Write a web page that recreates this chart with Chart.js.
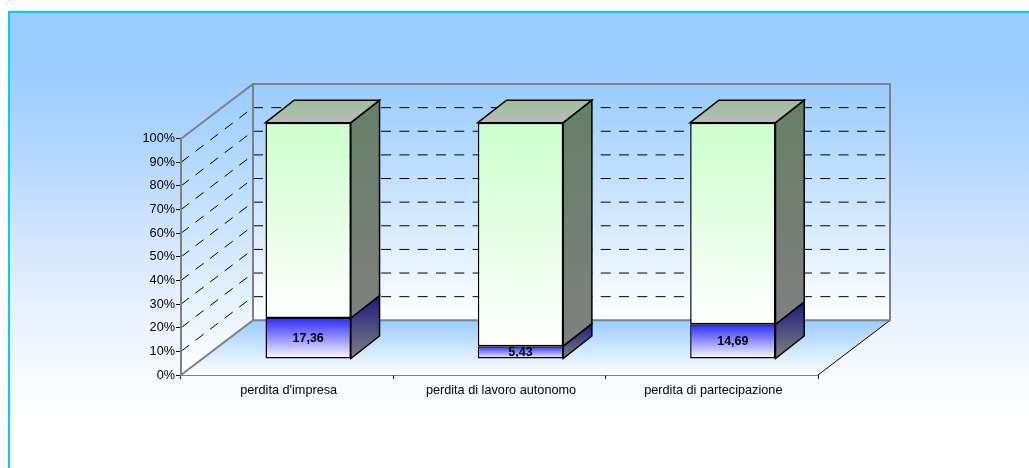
<!DOCTYPE html>
<html>
<head>
<meta charset="utf-8">
<style>
  html, body { margin: 0; padding: 0; background: #fff; }
  #wrap { width: 1029px; height: 468px; }
</style>
<script src="https://cdn.jsdelivr.net/npm/chart.js@4/dist/chart.umd.min.js"></script>
</head>
<body>
<div id="wrap"><canvas id="grafico"></canvas></div>
<script>
var categorie = ["perdita d'impresa", "perdita di lavoro autonomo", "perdita di partecipazione"];
var quotaBlu = [17.36, 5.43, 14.69];
var quotaVerde = [82.64, 94.57, 85.31];
var tacche = [0, 10, 20, 30, 40, 50, 60, 70, 80, 90, 100];

// depth of the 3d box and of the bars, in pixels
var PROF_X = 72, PROF_Y = 54.7;
var BAR_X = 21, BAR_Y = 16;
var BAR_DX = 28.7, BAR_DY = 22.5;

function gradV(ctx, y0, y1, c0, c1) {
  var g = ctx.createLinearGradient(0, y0, 0, y1);
  g.addColorStop(0, c0);
  g.addColorStop(1, c1);
  return g;
}

// front face gradient of a stacked segment
function riempi(colore) {
  return function (c) {
    var sc = c.chart.scales.y;
    if (!sc) return colore;
    var base = 0;
    if (c.datasetIndex === 1) base = quotaBlu[c.dataIndex];
    var y0 = sc.getPixelForValue(base + c.raw);
    var y1 = sc.getPixelForValue(base);
    if (!isFinite(y0) || !isFinite(y1)) return colore;
    return gradV(c.chart.ctx, y0, y1, colore, "#ffffff");
  };
}

function poligono(ctx, punti, fill, stroke, lw) {
  ctx.beginPath();
  ctx.moveTo(punti[0][0], punti[0][1]);
  for (var i = 1; i < punti.length; i++) ctx.lineTo(punti[i][0], punti[i][1]);
  ctx.closePath();
  if (fill) { ctx.fillStyle = fill; ctx.fill(); }
  if (stroke) { ctx.strokeStyle = stroke; ctx.lineWidth = lw; ctx.stroke(); }
}

function linea(ctx, x0, y0, x1, y1, colore, lw, dash) {
  ctx.beginPath();
  ctx.setLineDash(dash || []);
  ctx.moveTo(x0, y0);
  ctx.lineTo(x1, y1);
  ctx.strokeStyle = colore;
  ctx.lineWidth = lw;
  ctx.stroke();
  ctx.setLineDash([]);
}

var sfondo = {
  id: "sfondo",
  beforeDraw: function (chart) {
    var ctx = chart.ctx;
    ctx.save();
    ctx.fillStyle = "#ffffff";
    ctx.fillRect(0, 0, chart.width, chart.height);
    var g = ctx.createLinearGradient(0, 0, 0, 468);
    g.addColorStop(60 / 468, "#99ccff");
    g.addColorStop(143 / 468, "#afd5ff");
    g.addColorStop(243 / 468, "#d5e6ff");
    g.addColorStop(310 / 468, "#e9f2ff");
    g.addColorStop(380 / 468, "#f8fbff");
    g.addColorStop(430 / 468, "#ffffff");
    ctx.fillStyle = g;
    ctx.fillRect(9, 12, chart.width, chart.height);
    ctx.strokeStyle = "#00ccff";
    ctx.lineWidth = 2;
    ctx.strokeRect(9, 12, chart.width + 10, chart.height + 10);
    ctx.restore();
  }
};

var scatola = {
  id: "scatola",
  beforeDatasetsDraw: function (chart) {
    var ctx = chart.ctx, a = chart.chartArea, sc = chart.scales.y;
    var xb = a.left + PROF_X, xr = a.right + PROF_X;
    var yt = a.top - PROF_Y, yb = a.bottom - PROF_Y;
    ctx.save();
    // walls and floor
    poligono(ctx, [[xb, yt], [xr, yt], [xr, yb], [xb, yb]], gradV(ctx, yt, yb, "#99ccff", "#ffffff"));
    poligono(ctx, [[a.left, a.top], [xb, yt], [xb, yb], [a.left, a.bottom]], gradV(ctx, yt, a.bottom, "#99ccff", "#ffffff"));
    poligono(ctx, [[a.left, a.bottom], [xb, yb], [xr, yb], [a.right, a.bottom]],
      gradV(ctx, yb, a.bottom, "#99ccff", "#ffffff"));
    tacche.forEach(function (t) {
      if (t === 0 || t === 100) return;
      var y = sc.getPixelForValue(t);
      linea(ctx, a.left, y, xb, y - PROF_Y, "#000", 1, [10, 8.3]);
      linea(ctx, xb, y - PROF_Y, xr, y - PROF_Y, "#000", 1, [10, 8.3]);
    });
    linea(ctx, a.right, a.bottom, xr, yb, "#000", 1);
    poligono(ctx, [[a.left, a.top], [xb, yt], [xr, yt], [xr, yb], [xb, yb], [a.left, a.bottom]],
      null, "#808080", 2);
    linea(ctx, xb, yt, xb, yb, "#808080", 2);
    // sides and tops of the bars, then the library draws the fronts on top
    ctx.translate(BAR_X, -BAR_Y);
    [0, 1].forEach(function (d) {
      chart.getDatasetMeta(d).data.forEach(function (b) {
        var p = b.getProps(["x", "y", "base", "width"]);
        var dx = p.x + p.width / 2;
        var sx = p.x - p.width / 2;
        var alto = d === 0 ? "#1a1a80" : "#667f66";
        poligono(ctx, [[dx, p.y], [dx + BAR_DX, p.y - BAR_DY], [dx + BAR_DX, p.base - BAR_DY], [dx, p.base]],
          gradV(ctx, p.y - BAR_DY, p.base, alto, "#808080"), "#000", 1.5);
        if (d === 1) {
          poligono(ctx, [[sx, p.y], [sx + BAR_DX, p.y - BAR_DY], [dx + BAR_DX, p.y - BAR_DY], [dx, p.y]],
            gradV(ctx, p.y - BAR_DY, p.y, "#99bf99", "#bbbbbb"), "#000", 1.5);
        }
      });
    });
    ctx.restore();
    // fronts are shifted to their plane inside the box
    ctx.save();
    ctx.translate(BAR_X, -BAR_Y);
  },
  afterDatasetsDraw: function (chart) {
    var ctx = chart.ctx;
    ctx.font = "bold 12.5px 'Liberation Sans'";
    ctx.fillStyle = "#000";
    ctx.textAlign = "center";
    ctx.textBaseline = "middle";
    chart.getDatasetMeta(0).data.forEach(function (b, i) {
      var p = b.getProps(["x", "y", "base"]);
      ctx.fillText(String(quotaBlu[i]).replace(".", ","), p.x, (p.y + p.base) / 2);
    });
    ctx.restore();
  }
};

Chart.defaults.font.family = "'Liberation Sans'";
Chart.defaults.font.size = 12.7;
Chart.defaults.color = "#000";

new Chart(document.getElementById("grafico"), {
  type: "bar",
  data: {
    labels: categorie,
    datasets: [
      { label: "a", data: quotaBlu, backgroundColor: riempi("#2a2aff"), clip: false },
      { label: "b", data: quotaVerde, backgroundColor: riempi("#ccffcc"), clip: false }
    ]
  },
  options: {
    responsive: true,
    maintainAspectRatio: false,
    animation: false,
    events: [],
    datasets: {
      bar: {
        borderColor: "#000",
        borderWidth: 1.5,
        borderSkipped: false,
        barPercentage: 1,
        categoryPercentage: 0.402
      }
    },
    layout: {
      autoPadding: false,
      padding: { left: 141, top: 138.7, right: 211, bottom: 63 }
    },
    plugins: {
      legend: { display: false },
      title: { display: false },
      tooltip: { enabled: false }
    },
    scales: {
      x: {
        stacked: true,
        afterFit: function (s) { s.height = 30; },
        border: { color: "#000", width: 1.5 },
        grid: { display: true, offset: true, drawOnChartArea: false, tickColor: "#000", tickLength: 4 },
        ticks: { padding: 4, labelOffset: 1.5, maxRotation: 0, autoSkip: false }
      },
      y: {
        stacked: true,
        min: 0,
        max: 100,
        afterFit: function (s) { s.width = 40; },
        border: { color: "#000", width: 1.5 },
        grid: { drawOnChartArea: false, tickColor: "#000", tickLength: 5 },
        ticks: {
          stepSize: 10,
          padding: 1,
          callback: function (v) { return v + "%"; }
        }
      }
    }
  },
  plugins: [sfondo, scatola]
});
</script>
</body>
</html>
